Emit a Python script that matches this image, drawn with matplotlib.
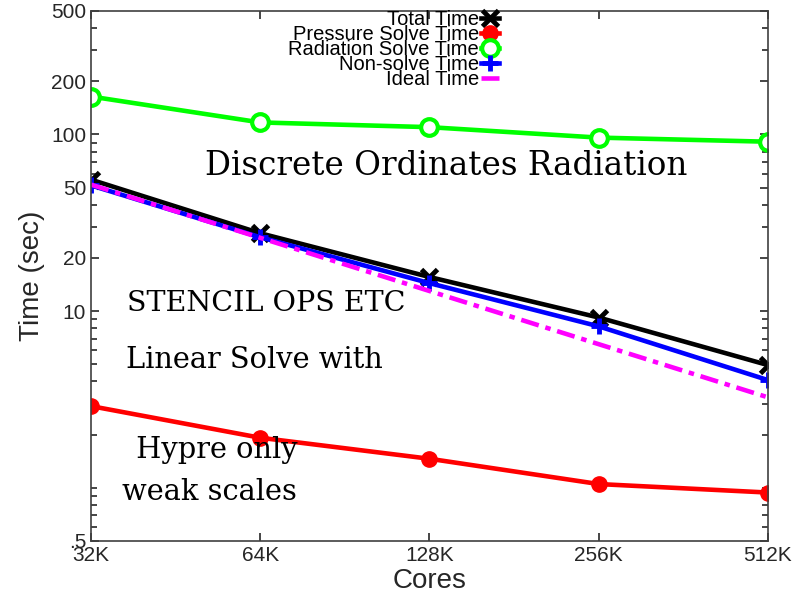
import matplotlib
matplotlib.use('Agg')
import matplotlib.pyplot as plt
from matplotlib.ticker import FixedLocator, NullFormatter

# weak scaling data, cores in thousands
cores = [32, 64, 128, 256, 512]
core_labels = ['32K', '64K', '128K', '256K', '512K']
total_time = [55.5, 27.6, 15.6, 9.2, 4.95]
pressure_time = [2.9, 1.92, 1.46, 1.05, 0.94]
radiation_time = [164, 117, 110, 96, 91]
nonsolve_time = [51.5, 26.2, 14.4, 8.2, 4.07]
ideal_time = [52, 26, 13, 6.5, 3.25]

ytick_vals = [0.5, 10, 20, 50, 100, 200, 500]
ytick_labels = ['.5', '10', '20', '50', '100', '200', '500']

plt.rcParams['font.family'] = ['Liberation Sans', 'DejaVu Sans']
axcol = '#262626'

fig = plt.figure(figsize=(8.01, 6.11), dpi=100)
ax = fig.add_axes([0.1136, 0.1146, 0.8452, 0.8674])

ax.plot(cores, total_time, color='black', lw=3.3, marker='x', ms=11, mew=3.5,
        label='Total Time')
ax.plot(cores, pressure_time, color='#ff0000', lw=3.3, marker='o', ms=11,
        label='Pressure Solve Time')
ax.plot(cores, radiation_time, color='#00ff00', lw=3.3, marker='o', ms=12,
        mfc='white', mew=3, label='Radiation Solve Time')
ax.plot(cores, nonsolve_time, color='#0000ff', lw=3.3, marker='+', ms=12,
        mew=3.5, label='Non-solve Time')
ax.plot(cores, ideal_time, color='#ff00ff', lw=3.3, ls=(0, (4, 1.5, 1.2, 1.5)),
        label='Ideal Time')

ax.set_xscale('log', base=2)
ax.set_yscale('log')
ax.set_xlim(cores[0], cores[-1])
ax.set_ylim(0.5, 500)

ax.set_xticks(cores)
ax.set_xticklabels(core_labels)
ax.xaxis.set_minor_locator(FixedLocator([]))
ax.set_yticks(ytick_vals)
ax.set_yticklabels(ytick_labels)
minors = [m * d for d in [0.1, 1, 10, 100] for m in range(1, 10)]
minors = [v for v in minors if 0.5 < v < 500 and v not in ytick_vals]
ax.yaxis.set_minor_locator(FixedLocator(minors))
ax.yaxis.set_minor_formatter(NullFormatter())

ax.tick_params(which='both', direction='in', top=True, right=True,
               colors=axcol, labelsize=15, width=1.2)
ax.tick_params(which='major', length=6)
ax.tick_params(which='minor', length=4)
for s in ax.spines.values():
    s.set_color('#404040')
    s.set_linewidth(1.2)

ax.set_xlabel('Cores', fontsize=20, color=axcol, labelpad=2)
ax.set_ylabel('Time (sec)', fontsize=20, color=axcol, labelpad=4)

leg = ax.legend(loc='upper center', bbox_to_anchor=(0.447, 1.025), frameon=False,
                markerfirst=False, fontsize=14.5, labelspacing=-0.2,
                handlelength=0.9, handletextpad=0.1, borderpad=0.1)

serif = ['DejaVu Serif']
ax.text(0.168, 0.69, 'Discrete Ordinates Radiation', transform=ax.transAxes,
        fontsize=23.5, family=serif, va='baseline')
ax.text(0.053, 0.434, 'STENCIL OPS ETC', transform=ax.transAxes,
        fontsize=20.5, family=serif, va='baseline')
ax.text(0.052, 0.326, 'Linear Solve with', transform=ax.transAxes,
        fontsize=20.8, family=serif, va='baseline')
ax.text(0.053, 0.157, ' Hypre only', transform=ax.transAxes,
        fontsize=20.8, family=serif, va='baseline')
ax.text(0.046, 0.077, 'weak scales', transform=ax.transAxes,
        fontsize=20.8, family=serif, va='baseline')

fig.savefig('out.png', dpi=100)
